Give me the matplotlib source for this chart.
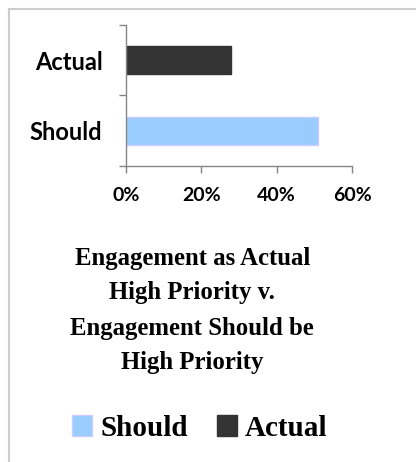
import matplotlib
matplotlib.use("Agg")
import matplotlib.pyplot as plt
from matplotlib.lines import Line2D
from matplotlib.ticker import FixedLocator

# data
categories = ["Should", "Actual"]
values = [51, 28]
bar_colors = ["#99CCFF", "#333333"]
edge_colors = ["#CCCCFF", "#333333"]
x_ticks = [0, 20, 40, 60]
title_lines = ["Engagement as Actual", "High Priority v.",
               "Engagement Should be", "High Priority"]

fig = plt.figure(figsize=(4.16, 4.62), dpi=100)
ax = fig.add_axes([0.3029, 0.6407, 0.5433, 0.3052])

bars = ax.barh(range(len(categories)), values, height=0.4,
               color=bar_colors, edgecolor=edge_colors, linewidth=1)

ax.set_xlim(0, 60)
ax.set_ylim(-0.5, len(categories) - 0.5)

# category ticks sit between bars, labels centred on the bars
ax.yaxis.set_major_locator(FixedLocator([-0.5, 0.5, 1.5]))
ax.yaxis.set_minor_locator(FixedLocator(range(len(categories))))
ax.set_yticklabels([], minor=False)
ax.set_yticklabels(categories, minor=True)
ax.tick_params(axis="y", which="minor", length=0, pad=17)
ax.tick_params(axis="y", which="major", length=5, color="#868686", width=1)

ax.set_xticks(x_ticks)
ax.set_xticklabels([f"{t}%" for t in x_ticks])
ax.tick_params(axis="x", length=5, color="#868686", width=1, pad=10)

for lab in ax.get_yticklabels(minor=True):
    lab.set_fontfamily("Lato")
    lab.set_fontweight("bold")
    lab.set_fontsize(17)
for lab in ax.get_xticklabels():
    lab.set_fontfamily("Lato")
    lab.set_fontweight("bold")
    lab.set_fontsize(14)

for side in ["top", "right"]:
    ax.spines[side].set_visible(False)
for side in ["left", "bottom"]:
    ax.spines[side].set_color("#868686")
    ax.spines[side].set_linewidth(1)

# title below the plot
y0 = 1 - 258 / 462
for i, line in enumerate(title_lines):
    fig.text(0.462, y0 - i * 35 / 462, line, ha="center", va="center",
             family="Liberation Serif", fontweight="bold", fontsize=17.8)

fig.legend(bars, categories, loc="center", bbox_to_anchor=(0.48, 1 - 428 / 462),
           ncol=2, frameon=False, handlelength=0.7, handleheight=0.7,
           handletextpad=0.27, columnspacing=1.0,
           prop={"family": "Liberation Serif", "weight": "bold", "size": 21})

# thin grey frame on top and left
fig.add_artist(Line2D([9 / 416, 1], [1 - 9 / 462, 1 - 9 / 462],
                      transform=fig.transFigure, color="#cccccc", lw=1.5))
fig.add_artist(Line2D([9 / 416, 9 / 416], [0, 1 - 9 / 462],
                      transform=fig.transFigure, color="#cccccc", lw=1.5))

fig.savefig("out.png", dpi=100)
